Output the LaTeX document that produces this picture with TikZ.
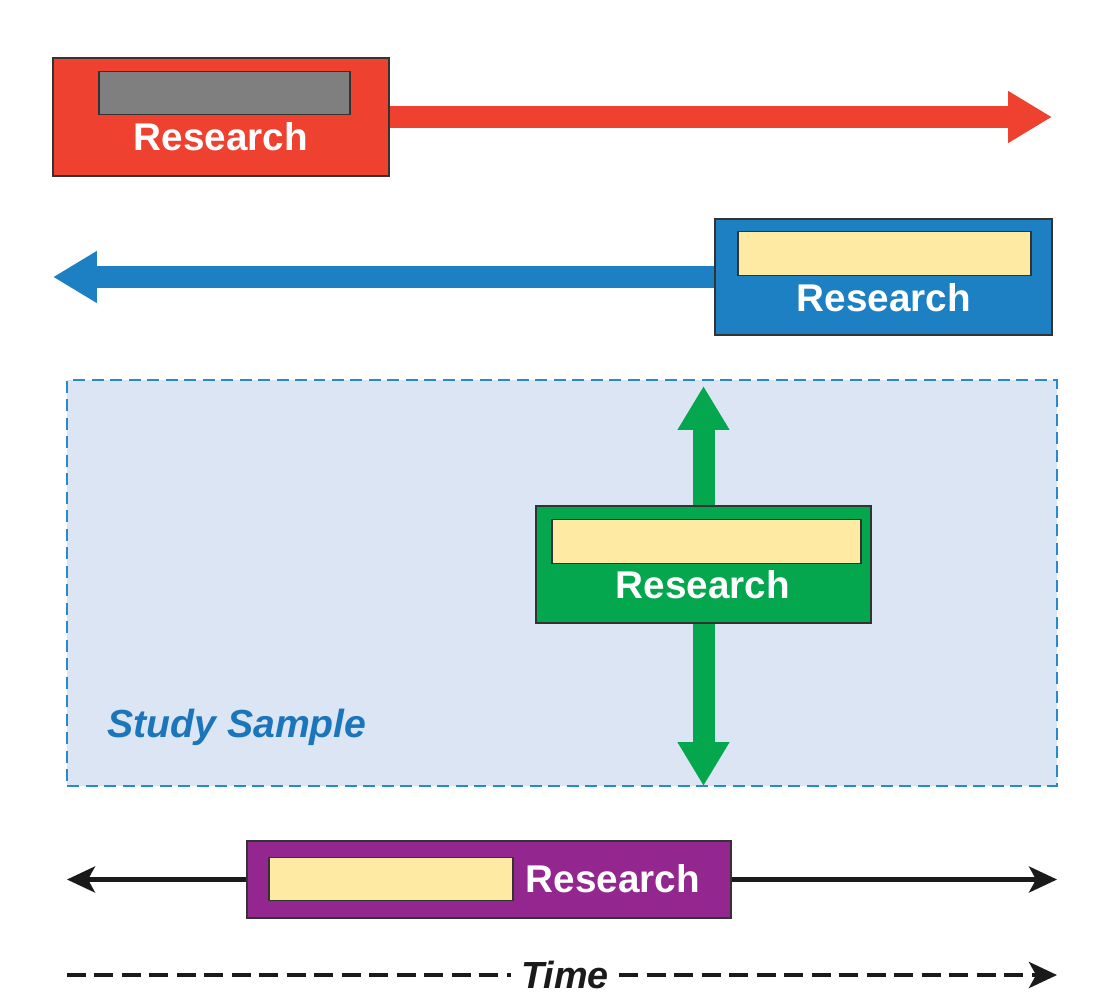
\documentclass[tikz,border=0pt]{standalone}
\usepackage{fontspec}
\newfontfamily\hv{Liberation Sans}
\usetikzlibrary{arrows.meta}
\definecolor{cred}{HTML}{EF4130}
\definecolor{cblue}{HTML}{1D80C3}
\definecolor{cgreen}{HTML}{04A64E}
\definecolor{cpurple}{HTML}{93278F}
\definecolor{cyellow}{HTML}{FFEAA4}
\definecolor{cgray}{HTML}{7F7F7F}
\definecolor{studyfill}{HTML}{DCE5F4}
\definecolor{studyline}{HTML}{2A88CC}
\definecolor{studytext}{HTML}{1B75BB}
\definecolor{edge}{HTML}{333333}
\definecolor{ink}{HTML}{1A1A1A}
\pgfdeclarelayer{back}
\pgfdeclarelayer{mid}
\pgfsetlayers{back,mid,main}
\tikzset{
  bigbox/.style={draw=edge, line width=1.3pt, inner sep=0pt},
  innerbox/.style={draw=edge, line width=0.7pt, inner sep=0pt, minimum height=0.87cm},
  label/.style={text=white, font=\hv\bfseries\fontsize{22}{25}\selectfont, inner sep=0pt},
  fatarrow/.style={line width=0.44cm, -{Triangle[length=0.88cm,width=0.98cm]}},
  thinarrow/.style={draw=ink, line width=2.4pt, -{Stealth[length=0.56cm,width=0.52cm,inset=0.14cm]}},
  timedash/.style={draw=ink, line width=2.6pt, dash pattern=on 0.38cm off 0.17cm},
}
\begin{document}
\begin{tikzpicture}[x=0.02cm,y=-0.02cm]
\useasboundingbox (0,0) rectangle (1094,1000);

% study sample region
\begin{pgfonlayer}{back}
\node[fill=studyfill, draw=studyline, line width=1.2pt, dash pattern=on 0.24cm off 0.13cm,
      minimum width=19.8cm, minimum height=8.12cm, inner sep=0pt] (study) at (562,583) {};
\end{pgfonlayer}
\node[text=studytext, font=\hv\bfseries\itshape\fontsize{22.3}{26}\selectfont, inner sep=0pt] (studylbl) at (237,727) {Study Sample};

% red
\node[bigbox, fill=cred, minimum width=6.72cm, minimum height=2.36cm] (redbox) at (221,117) {};
\node[innerbox, fill=cgray, minimum width=5.02cm] (redin) at (224.5,93) {};
\node[label] (redlbl) at (221,137) {Research};
\coordinate (redtip) at (1052,117);

% blue
\node[bigbox, fill=cblue, minimum width=6.74cm, minimum height=2.32cm] (bluebox) at (883.5,277) {};
\node[innerbox, fill=cyellow, minimum width=5.86cm] (bluein) at (884.5,253.5) {};
\node[label] (bluelbl) at (884,298) {Research};
\coordinate (bluetip) at (53,277);

% green
\node[bigbox, fill=cgreen, minimum width=6.7cm, minimum height=2.34cm] (greenbox) at (703.5,564.5) {};
\node[innerbox, fill=cyellow, minimum width=6.18cm] (greenin) at (706.5,541.5) {};
\node[label] (greenlbl) at (703,585) {Research};
\coordinate (greentop) at (703.5,386);
\coordinate (greenbot) at (703.5,786);

% purple
\node[bigbox, fill=cpurple, minimum width=9.68cm, minimum height=1.54cm] (purplebox) at (489,879.5) {};
\node[innerbox, fill=cyellow, minimum width=4.88cm] (purplein) at (391,879) {};
\node[label] (purplelbl) at (613,879) {Research};
\coordinate (pleft) at (67,879.5);
\coordinate (pright) at (1057,879.5);

% time
\node[text=ink, font=\hv\bfseries\itshape\fontsize{21.5}{24}\selectfont, inner sep=0pt] (time) at (565,975) {Time};
\coordinate (tleft) at (67,975);
\coordinate (tright) at (1057,975);

\begin{pgfonlayer}{mid}
\draw[fatarrow, cred] (redbox.east) -- (redtip);
\draw[fatarrow, cblue] (bluebox.west) -- (bluetip);
\draw[fatarrow, cgreen] (greenbox.north) -- (greentop);
\draw[fatarrow, cgreen] (greenbox.south) -- (greenbot);
\draw[thinarrow] (purplebox.west) -- (pleft);
\draw[thinarrow] (purplebox.east) -- (pright);
\end{pgfonlayer}

\draw[timedash] (tleft) -- ([xshift=-0.2cm]time.west);
\draw[timedash, thinarrow] ([xshift=0.2cm]time.east) -- (tright);
\end{tikzpicture}
\end{document}
